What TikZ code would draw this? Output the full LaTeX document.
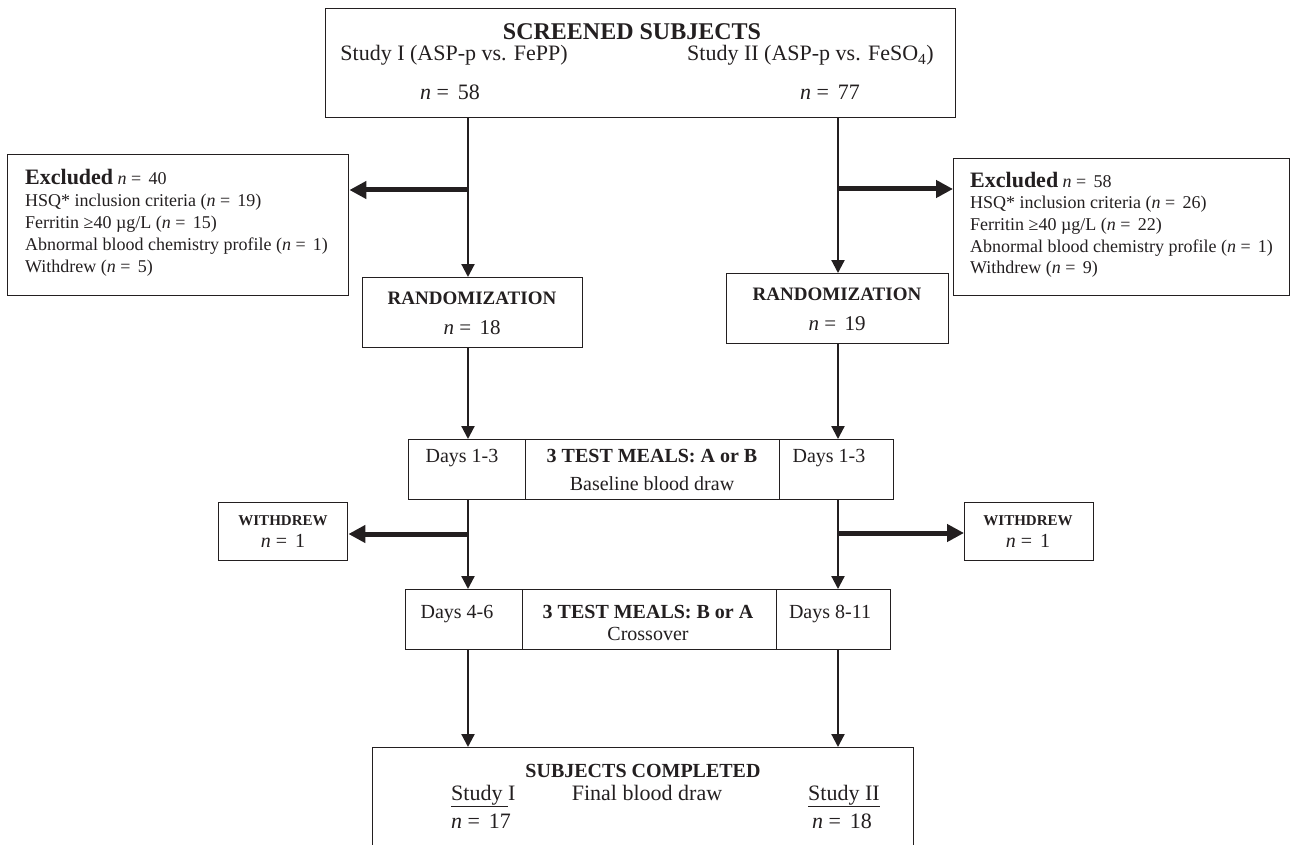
\documentclass[tikz,border=0pt]{standalone}
\usepackage{fontspec}
\setmainfont{Liberation Serif}
\usetikzlibrary{arrows.meta}
\definecolor{ink}{HTML}{231F20}
\newcommand{\nval}[1]{\textit{n}\hspace{0.25em}=\hspace{0.4em}#1}
\newcommand{\fs}[1]{\fontsize{#1}{#1}\selectfont}
\begin{document}
\begin{tikzpicture}[x=1pt,y=-1pt,
  box/.style={draw=ink, line width=1.4pt, inner sep=0pt, anchor=north west},
  txt/.style={inner sep=0pt, text=ink},
  arr/.style={draw=ink, line width=2.2pt, -{Triangle[length=13pt,width=13pt]}},
  thk/.style={draw=ink, line width=5pt, -{Triangle[length=17pt,width=17pt]}}]
\useasboundingbox (0,0) rectangle (1292,845);
\fill[white] (0,0) rectangle (1292,845);
% columns
\coordinate (cL) at (468,0);
\coordinate (cR) at (838,0);
% top box
\node[box, minimum width=630pt, minimum height=109pt] (top) at (325,8) {};
\node[txt, anchor=base, font=\fs{24}\bfseries] (ttitle) at (632,40) {SCREENED SUBJECTS};
\node[txt, anchor=base east, font=\fs{22}] (tS1) at (568,61) {Study I (ASP-p vs. FePP)};
\node[txt, anchor=base west, font=\fs{22}] (tS2) at (687,61) {Study II (ASP-p vs. FeSO\textsubscript{4})};
\node[txt, anchor=base west, font=\fs{22}] (tn1) at (420,100) {\nval{58}};
\node[txt, anchor=base west, font=\fs{22}] (tn2) at (800,100) {\nval{77}};
% excluded boxes
\node[box, minimum width=341pt, minimum height=141pt] (exL) at (7,154) {};
\node[txt, anchor=base west, font=\fs{18}] (exL1) at (25,185) {{\fs{22}\bfseries Excluded} \nval{40}};
\node[txt, anchor=base west, font=\fs{18}] (exL2) at (25,206) {HSQ* inclusion criteria (\nval{19})};
\node[txt, anchor=base west, font=\fs{18}] (exL3) at (25,228) {Ferritin ≥40 µg/L (\nval{15})};
\node[txt, anchor=base west, font=\fs{18}] (exL4) at (25,250) {Abnormal blood chemistry profile (\nval{1})};
\node[txt, anchor=base west, font=\fs{18}] (exL5) at (25,272) {Withdrew (\nval{5})};
\node[box, minimum width=336pt, minimum height=137pt] (exR) at (953,158) {};
\node[txt, anchor=base west, font=\fs{18}] (exR1) at (970,187) {{\fs{22}\bfseries Excluded} \nval{58}};
\node[txt, anchor=base west, font=\fs{18}] (exR2) at (970,208) {HSQ* inclusion criteria (\nval{26})};
\node[txt, anchor=base west, font=\fs{18}] (exR3) at (970,230) {Ferritin ≥40 µg/L (\nval{22})};
\node[txt, anchor=base west, font=\fs{18}] (exR4) at (970,252) {Abnormal blood chemistry profile (\nval{1})};
\node[txt, anchor=base west, font=\fs{18}] (exR5) at (970,273) {Withdrew (\nval{9})};
% randomization
\node[box, minimum width=220pt, minimum height=70pt] (rL) at (362,277) {};
\node[txt, anchor=base, font=\fs{19}\bfseries] (rL1) at (472,304) {RANDOMIZATION};
\node[txt, anchor=base, font=\fs{21}] (rL2) at (472,334) {\nval{18}};
\node[box, minimum width=222pt, minimum height=70pt] (rR) at (726,273) {};
\node[txt, anchor=base, font=\fs{19}\bfseries] (rR1) at (837,300) {RANDOMIZATION};
\node[txt, anchor=base, font=\fs{21}] (rR2) at (837,330) {\nval{19}};
% row 1
\node[box, minimum width=117pt, minimum height=60pt] (a1) at (408,439) {};
\node[box, minimum width=254pt, minimum height=60pt] (a2) at (525,439) {};
\node[box, minimum width=114pt, minimum height=60pt] (a3) at (779,439) {};
\node[txt, anchor=base, font=\fs{20}] (a1t) at (462,462) {Days 1-3};
\node[txt, anchor=base, font=\fs{20}\bfseries] (a2t) at (652,462) {3 TEST MEALS: A or B};
\node[txt, anchor=base, font=\fs{20}] (a2s) at (652,490) {Baseline blood draw};
\node[txt, anchor=base, font=\fs{20}] (a3t) at (829,462) {Days 1-3};
% withdrew
\node[box, minimum width=129pt, minimum height=58pt] (wL) at (218,502) {};
\node[txt, anchor=base, font=\fs{15}\bfseries] (wL1) at (283,525) {WITHDREW};
\node[txt, anchor=base, font=\fs{20}] (wL2) at (283,547) {\nval{1}};
\node[box, minimum width=129pt, minimum height=58pt] (wR) at (964,502) {};
\node[txt, anchor=base, font=\fs{15}\bfseries] (wR1) at (1028,525) {WITHDREW};
\node[txt, anchor=base, font=\fs{20}] (wR2) at (1028,547) {\nval{1}};
% row 2
\node[box, minimum width=117pt, minimum height=60pt] (b1) at (405,589) {};
\node[box, minimum width=254pt, minimum height=60pt] (b2) at (522,589) {};
\node[box, minimum width=114pt, minimum height=60pt] (b3) at (776,589) {};
\node[txt, anchor=base, font=\fs{20}] (b1t) at (457,618) {Days 4-6};
\node[txt, anchor=base, font=\fs{20}\bfseries] (b2t) at (648,618) {3 TEST MEALS: B or A};
\node[txt, anchor=base, font=\fs{20}] (b2s) at (648,640) {Crossover};
\node[txt, anchor=base, font=\fs{20}] (b3t) at (830,618) {Days 8-11};
% bottom box
\node[box, minimum width=541pt, minimum height=120pt] (done) at (372,747) {};
\node[txt, anchor=base, font=\fs{20}\bfseries] (d1) at (643,777) {SUBJECTS COMPLETED};
\node[txt, anchor=base west, font=\fs{22}] (d2) at (451,800) {\underline{Study\ }I};
\node[txt, anchor=base, font=\fs{22}] (d3) at (647,800) {Final blood draw};
\node[txt, anchor=base west, font=\fs{22}] (d4) at (808,800) {\underline{Study II}};
\node[txt, anchor=base west, font=\fs{22}] (d5) at (451,828) {\nval{17}};
\node[txt, anchor=base west, font=\fs{22}] (d6) at (812,828) {\nval{18}};
% branch points
\coordinate (bx1) at (468,190);
\coordinate (bx2) at (838,189);
\coordinate (bx3) at (468,534);
\coordinate (bx4) at (838,533);
% connectors
\draw[arr] (top.south -| cL) -- (rL.north -| cL);
\draw[arr] (top.south -| cR) -- (rR.north -| cR);
\draw[thk] (bx1) -- (exL.east |- bx1);
\draw[thk] (bx2) -- (exR.west |- bx2);
\draw[arr] (rL.south -| cL) -- (a1.north -| cL);
\draw[arr] (rR.south -| cR) -- (a3.north -| cR);
\draw[arr] (a1.south -| cL) -- (b1.north -| cL);
\draw[arr] (a3.south -| cR) -- (b3.north -| cR);
\draw[thk] (bx3) -- (wL.east |- bx3);
\draw[thk] (bx4) -- (wR.west |- bx4);
\draw[arr] (b1.south -| cL) -- (done.north -| cL);
\draw[arr] (b3.south -| cR) -- (done.north -| cR);
\end{tikzpicture}
\end{document}
